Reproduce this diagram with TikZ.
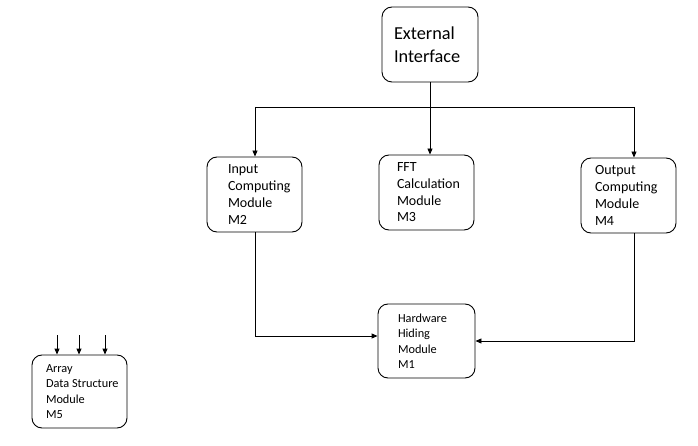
\documentclass[tikz,border=0pt]{standalone}
\usepackage{fontspec}
\setmainfont{Carlito}
\usetikzlibrary{arrows.meta}
\newcommand{\lnfive}[1]{\makebox[67pt][l]{#1}}
\begin{document}
\begin{tikzpicture}[x=1pt,y=-1pt,
  box/.style={draw, line width=0.9pt, rounded corners=10pt, align=left,
    minimum height=75pt, inner ysep=2pt, font=\fontsize{14}{16.7}\selectfont},
  smallbox/.style={box, font=\fontsize{12.3}{15.5}\selectfont},
  conn/.style={line width=0.9pt},
  arr/.style={conn, -{Triangle[length=6pt,width=5pt]}}]
\useasboundingbox (0,0) rectangle (698,446);

\node[box, text width=72pt, inner xsep=12pt, minimum height=75pt,
  font=\fontsize{18.3}{23}\selectfont] (ext) at (430,44.5) {External\\Interface};
\node[box, text width=53pt, inner xsep=21pt] (m2) at (254.5,194.5) {Input\\Computing\\Module\\M2};
\node[box, text width=59pt, inner xsep=18pt] (m3) at (426.5,192.5) {FFT\\Calculation\\Module\\M3};
\node[box, text width=67pt, inner xsep=14pt] (m4) at (628.5,195.5) {Output\\Computing\\Module\\M4};
\node[smallbox, text width=57pt, inner xsep=20pt, minimum height=74pt] (m1) at (426.5,341) {Hardware\\Hiding\\Module\\M1};
\node[smallbox, inner xsep=0pt, minimum width=95pt, minimum height=73pt] (m5) at (79.5,391.5) {\lnfive{Array}\\\lnfive{Data\hspace{2.8pt}Structure}\\\lnfive{Module}\\\lnfive{M5}};

% distribution from the external interface
\coordinate (split) at (430,107);
\coordinate (lft) at (255,107);
\coordinate (rgt) at (634,107);
\draw[conn] (ext.south) -- (split);
\draw[conn] (lft) -- (rgt);
\draw[arr] (split) -- (split |- m3.north);
\draw[arr] (lft) -- (lft |- m2.north);
\draw[arr] (rgt) -- (rgt |- m4.north);

% to the hardware hiding module
\coordinate (m2down) at (255,336);
\coordinate (m4down) at (634,341);
\draw[arr] (m2down |- m2.south) -- (m2down) -- (m2down -| m1.west);
\draw[arr] (m4down |- m4.south) -- (m4down) -- (m4down -| m1.east);

% inputs of the array module
\coordinate (a1) at (57,335);
\coordinate (a2) at (79,335);
\coordinate (a3) at (105,335);
\draw[arr] (a1) -- (a1 |- m5.north);
\draw[arr] (a2) -- (a2 |- m5.north);
\draw[arr] (a3) -- (a3 |- m5.north);
\end{tikzpicture}
\end{document}
